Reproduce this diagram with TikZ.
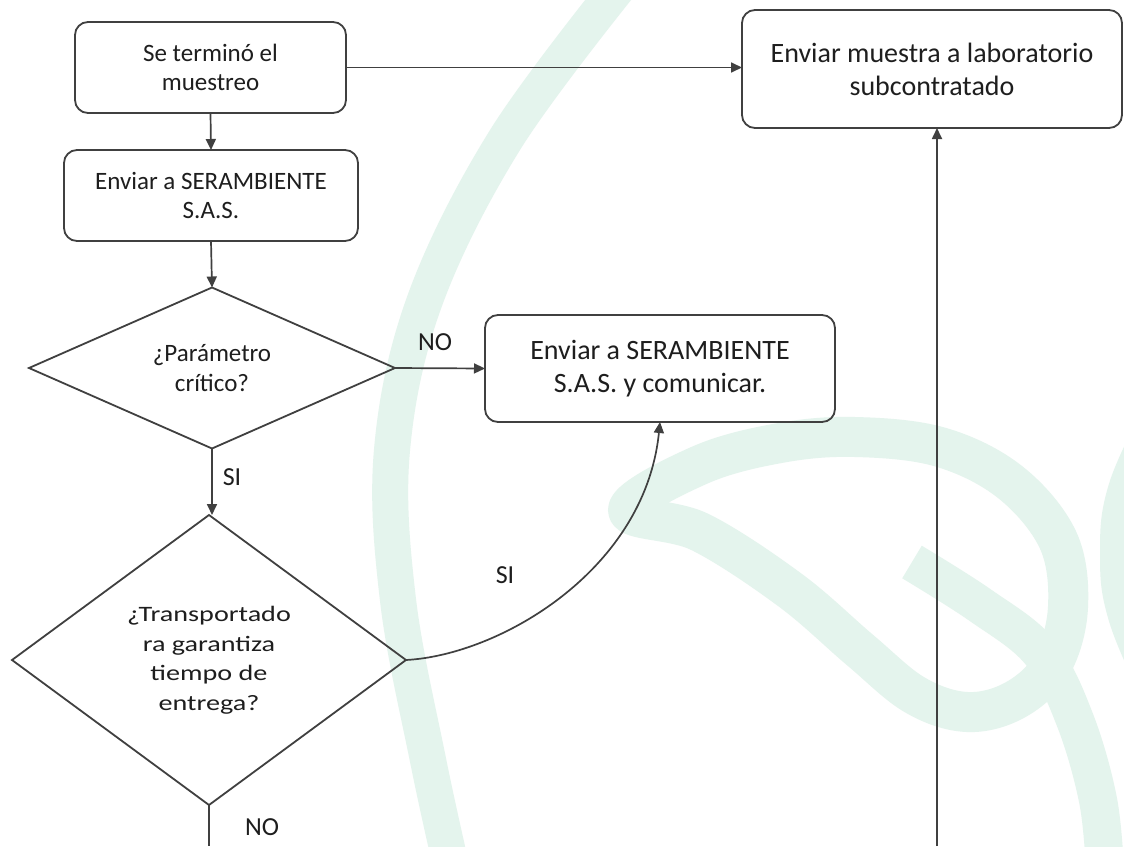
\documentclass[tikz,border=0pt]{standalone}
\usepackage{fontspec}
\setmainfont{Carlito}
\newfontfamily\widecarlito[FakeStretch=1.28]{Carlito}
\usetikzlibrary{shapes.geometric,arrows.meta}
\definecolor{wmgreen}{RGB}{228,244,237}
\definecolor{linegray}{RGB}{64,64,64}
\definecolor{txtgray}{RGB}{30,30,30}
\tikzset{
  wmband/.style={draw=wmgreen, line width=38pt, line cap=butt, line join=round},
  procbox/.style={draw=linegray, line width=1.8pt, rounded corners=13pt, fill=none,
    align=center, inner sep=0pt, outer sep=0pt, text=txtgray,
    font=\fontsize{25}{29.5}\selectfont},
  bigbox/.style={procbox, font=\fontsize{28}{33}\selectfont},
  decision/.style={diamond, draw=linegray, line width=1.8pt, align=center,
    inner sep=0pt, outer sep=0pt, text=txtgray, font=\fontsize{25}{29.5}\selectfont},
  conn/.style={draw=linegray, line width=1.7pt, -{Triangle[length=11pt,width=10pt]}},
  plainconn/.style={draw=linegray, line width=1.7pt},
  lbl/.style={text=txtgray, font=\fontsize{26}{30}\selectfont, inner sep=0pt}
}
\begin{document}
\begin{tikzpicture}[x=1pt,y=-1pt]
\useasboundingbox[fill=white] (0,0) rectangle (1124,846);
% watermark
\begin{scope}
\clip (0,0) rectangle (1124,846);
\draw[wmband, line width=36pt] plot[smooth, tension=0.6] coordinates {(620,-15) (505,140) (425,300) (392,450) (398,600) (428,760) (452,870)};
\draw[wmband, line width=40pt] plot[smooth cycle, tension=0.6] coordinates {(628,510) (700,465) (780,443) (855,437) (940,447) (1010,482) (1058,540) (1068,607) (1052,665) (1015,700) (967,712) (915,695) (860,650) (790,590) (700,532)};
\draw[wmband] plot[smooth, tension=0.6] coordinates {(912,562) (980,605) (1040,652) (1075,720) (1098,800) (1105,870)};
\draw[wmband, line width=40pt] plot[smooth, tension=0.7] coordinates {(1160,420) (1128,490) (1120,553) (1128,615) (1160,690)};
\end{scope}
% nodes
\node[procbox, minimum width=271pt, minimum height=91pt] (b1) at (210.5,67.5) {Se terminó el\\muestreo};
\node[procbox, minimum width=294pt, minimum height=91pt] (b2) at (211,195.5) {Enviar a SERAMBIENTE\\S.A.S.};
\node[decision, aspect=2.27, minimum width=366pt, minimum height=161pt] (d1) at (212,368) {¿Parámetro\\crítico?};
\node[decision, aspect=1.36, minimum width=394pt, minimum height=290pt,
  font=\widecarlito\fontsize{22}{29.5}\selectfont] (d2) at (209,660) {¿Transportado\\ra garantiza\\tiempo de\\entrega?};
\node[bigbox, minimum width=350pt, minimum height=107pt] (b3) at (660,368.5) {Enviar a SERAMBIENTE\\S.A.S. y comunicar.};
\node[bigbox, minimum width=380pt, minimum height=118pt] (b4) at (932,69) {Enviar muestra a laboratorio\\subcontratado};
% labels
\node[lbl] (lno1) at (435,342) {NO};
\node[lbl] (lsi1) at (232,477) {SI};
\node[lbl] (lsi2) at (505,575) {SI};
\node[lbl] (lno2) at (262,827) {NO};
% free ends at the bottom edge
\coordinate (bend) at (209,846);
\coordinate (rend) at (937,846);
% connectors
\draw[conn] (b1.east) -- (b1.east -| b4.west);
\draw[conn] (b1.south) -- (b2.north);
\draw[conn] (b2.south) -- (d1.north);
\draw[conn] (d1.east) -- (b3.west);
\draw[conn] (d1.south) -- (d1.south |- d2.north);
\draw[conn] (d2.east) .. controls (500,655) and (645,570) .. (b3.south);
\draw[plainconn] (d2.south) -- (bend);
\draw[conn] (rend) -- (rend |- b4.south);
\end{tikzpicture}
\end{document}
